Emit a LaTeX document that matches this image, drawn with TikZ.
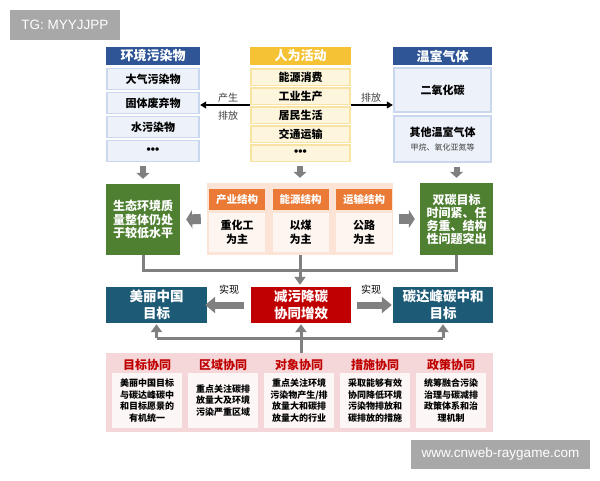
\documentclass[tikz,border=0pt]{standalone}
\usepackage{fontspec}
\setmainfont{Noto Sans CJK SC}
\newfontfamily\latinfont{Liberation Sans}
\usetikzlibrary{arrows.meta}
\definecolor{hblue}{HTML}{2F5597}
\definecolor{cblue}{HTML}{EDF2FA}
\definecolor{bblue}{HTML}{C9D8EE}
\definecolor{hyel}{HTML}{F5C235}
\definecolor{cyel}{HTML}{FDF6DD}
\definecolor{byel}{HTML}{F8E3A2}
\definecolor{dgreen}{HTML}{4F7F30}
\definecolor{orng}{HTML}{EA7A35}
\definecolor{peach}{HTML}{FBE3D5}
\definecolor{cpeach}{HTML}{FDF5F0}
\definecolor{tealb}{HTML}{1D5A75}
\definecolor{dred}{HTML}{C00000}
\definecolor{pinkc}{HTML}{F5D6D9}
\definecolor{cpink}{HTML}{FDF6F6}
\definecolor{agray}{HTML}{808080}
\definecolor{wgray}{HTML}{A8A8A8}
\definecolor{lgray}{HTML}{404040}
\newcommand{\fs}[2]{\fontsize{#1}{#2}\selectfont}
\newcommand{\tdots}{{\latinfont\bfseries\fs{12}{13}•••}}
\begin{document}
\begin{tikzpicture}[x=1pt,y=-1pt,
  box/.style={inner sep=0pt, align=center},
  bhdr/.style={box, fill=hblue, text=white, font=\bfseries\fs{13}{15}},
  bcell/.style={box, fill=cblue, draw=bblue, line width=1.5pt, font=\bfseries\fs{11}{13}},
  yhdr/.style={box, fill=hyel, text=white, font=\bfseries\fs{13}{15}},
  ycell/.style={box, fill=cyel, draw=byel, line width=1.5pt, font=\bfseries\fs{11}{13}},
  gbox/.style={box, fill=dgreen, text=white, font=\bfseries\fs{12}{13.5}},
  ohdr/.style={box, fill=orng, text=white, font=\bfseries\fs{10.5}{12}},
  ocell/.style={box, fill=cpeach, font=\bfseries\fs{11}{14}},
  tbox/.style={box, fill=tealb, text=white, font=\bfseries\fs{13.5}{16.5}},
  rbox/.style={box, fill=dred, text=white, font=\bfseries\fs{13.5}{16.5}},
  phdr/.style={box, text=dred, font=\bfseries\fs{12}{14}},
  pcell/.style={box, fill=cpink, font=\bfseries\fs{9}{11.5}},
  lbl/.style={box, text=lgray, font=\fs{10}{12}},
  darrow/.style={draw=agray, line width=6pt, -{Triangle[width=13pt,length=6pt]}},
  sarrow/.style={draw=agray, line width=10pt, -{Triangle[width=18pt,length=6pt]}},
  harrow/.style={draw=agray, line width=7pt, -{Triangle[width=16pt,length=10pt]}},
  conn/.style={draw=agray, line width=3pt},
  connarr/.style={conn, -{Triangle[width=11pt,length=8pt]}},
  thinarr/.style={draw=black, line width=1.2pt, -{Triangle[width=7pt,length=6pt]}},
  wm/.style={box, fill=wgray, text=white}
]
\useasboundingbox (0,0) rectangle (600,480);
\fill[white] (0,0) rectangle (600,480);

% watermarks
\node[wm, minimum width=110pt, minimum height=30pt, font=\latinfont\fs{13.5}{15}] (tg) at (65,25) {TG: MYYJJPP};
\node[wm, minimum width=179pt, minimum height=29pt, font=\latinfont\fs{13.5}{15}] (www) at (500.5,454.5) {www.cnweb-raygame.com};

% left column
\node[bhdr, minimum width=94pt, minimum height=18pt] (lh) at (153,56) {环境污染物};
\node[bcell, minimum width=92pt, minimum height=21pt] (l1) at (153,79) {大气污染物};
\node[bcell, minimum width=92pt, minimum height=21pt] (l2) at (153,103) {固体废弃物};
\node[bcell, minimum width=92pt, minimum height=21pt] (l3) at (153,127) {水污染物};
\node[bcell, minimum width=92pt, minimum height=21pt] (l4) at (153,151) {\tdots};

% middle column
\node[yhdr, minimum width=101pt, minimum height=18pt] (mh) at (300.5,56) {人为活动};
\node[ycell, minimum width=99pt, minimum height=16.5pt] (m1) at (300.5,77) {能源消费};
\node[ycell, minimum width=99pt, minimum height=16.5pt] (m2) at (300.5,96) {工业生产};
\node[ycell, minimum width=99pt, minimum height=16.5pt] (m3) at (300.5,115) {居民生活};
\node[ycell, minimum width=99pt, minimum height=16.5pt] (m4) at (300.5,134) {交通运输};
\node[ycell, minimum width=99pt, minimum height=16.5pt] (m5) at (300.5,153) {\tdots};

% right column
\node[bhdr, minimum width=99pt, minimum height=18pt] (rh) at (442.5,56) {温室气体};
\node[bcell, minimum width=97pt, minimum height=44pt] (r1) at (442.5,90) {二氧化碳};
\node[bcell, minimum width=97pt, minimum height=46pt] (r2) at (442.5,139) {其他温室气体\\[1pt]{\mdseries\color{lgray}\fs{8}{10}甲烷、氧化亚氮等}};

% top arrows
\draw[thinarr] (m3.west |- 0,105) -- (lh.east |- 0,105) coordinate (la);
\draw[thinarr] (m3.east |- 0,105) -- (rh.west |- 0,105) coordinate (ra);
\node[lbl] (lab1) at (228,98) {产生};
\node[lbl] (lab2) at (228,116) {排放};
\node[lbl] (lab3) at (371,98) {排放};

% row 2
\node[gbox, minimum width=74pt, minimum height=71pt] (g1) at (143,219.5) {生态环境质\\量整体仍处\\于较低水平};
\node[box, fill=peach, minimum width=186pt, minimum height=72pt] (cont) at (300,219) {};
\node[ohdr, minimum width=56pt, minimum height=21pt] (o1) at (237,199.5) {产业结构};
\node[ohdr, minimum width=56pt, minimum height=21pt] (o2) at (300.5,199.5) {能源结构};
\node[ohdr, minimum width=56pt, minimum height=21pt] (o3) at (364,199.5) {运输结构};
\node[ocell, minimum width=56pt, minimum height=39pt] (c1) at (237,232) {重化工\\为主};
\node[ocell, minimum width=56pt, minimum height=39pt] (c2) at (300.5,232) {以煤\\为主};
\node[ocell, minimum width=56pt, minimum height=39pt] (c3) at (364,232) {公路\\为主};
\node[gbox, minimum width=73pt, minimum height=72pt, font=\bfseries\fs{12}{13}] (g2) at (456.5,219) {双碳目标\\时间紧、任\\务重、结构\\性问题突出};

% down arrows
\draw[darrow] ([yshift=-4pt]g1.north |- l4.south) -- ([yshift=5pt]g1.north);
\draw[darrow] ([yshift=-4pt]cont.north |- m5.south) -- ([yshift=5pt]cont.north);
\draw[darrow] ([yshift=-4pt]g2.north |- r2.south) -- ([yshift=5pt]g2.north);

% side arrows row 2
\draw[sarrow] ([xshift=-6pt]cont.west) -- ([xshift=6pt]g1.east);
\draw[sarrow] ([xshift=6pt]cont.east) -- ([xshift=-5pt]g2.west);

% row 3
\node[tbox, minimum width=101pt, minimum height=36pt] (t1) at (156.5,305) {美丽中国\\目标};
\node[rbox, minimum width=100pt, minimum height=36pt] (red) at (301,305) {减污降碳\\协同增效};
\node[tbox, minimum width=100pt, minimum height=36pt] (t2) at (443,305) {碳达峰碳中和\\目标};

% connectors row 2 -> row 3
\coordinate (jn) at (300,270);
\draw[conn] (g1.south) |- (jn) -| (g2.south);
\draw[connarr] (cont.south) -- ([yshift=2pt]red.north -| cont.south);

% row 3 arrows
\draw[harrow] ([xshift=-7pt]red.west) -- ([xshift=-2pt]t1.east);
\draw[harrow] ([xshift=6pt]red.east) -- ([xshift=-1pt]t2.west);
\node[lbl, text=black] (sx1) at (229,290) {实现};
\node[lbl, text=black] (sx2) at (371,290) {实现};

% bottom container
\node[box, fill=pinkc, minimum width=387pt, minimum height=79pt] (pc) at (299.5,392.5) {};
\node[phdr] (p1) at (147,365) {目标协同};
\node[phdr] (p2) at (223,365) {区域协同};
\node[phdr] (p3) at (299,365) {对象协同};
\node[phdr] (p4) at (375,365) {措施协同};
\node[phdr] (p5) at (451,365) {政策协同};
\node[pcell, minimum width=70pt, minimum height=55pt] (q1) at (147,400.5) {美丽中国目标\\与碳达峰碳中\\和目标愿景的\\有机统一};
\node[pcell, minimum width=70pt, minimum height=55pt] (q2) at (223,400.5) {重点关注碳排\\放量大及环境\\污染严重区域};
\node[pcell, minimum width=70pt, minimum height=55pt] (q3) at (299,400.5) {重点关注环境\\污染物产生/排\\放量大和碳排\\放量大的行业};
\node[pcell, minimum width=70pt, minimum height=55pt] (q4) at (375,400.5) {采取能够有效\\协同降低环境\\污染物排放和\\碳排放的措施};
\node[pcell, minimum width=70pt, minimum height=55pt] (q5) at (451,400.5) {统筹融合污染\\治理与碳减排\\政策体系和治\\理机制};

% bottom connectors
\coordinate (bj) at (300,338);
\draw[connarr] (bj -| t1.south) -- ([yshift=-1pt]t1.south);
\draw[connarr] (bj -| t2.south) -- ([yshift=-1pt]t2.south);
\draw[conn] (bj -| t1.south) -- (bj -| t2.south);
\draw[connarr] (pc.north -| red.south) -- ([yshift=-1pt]red.south);
\end{tikzpicture}
\end{document}
